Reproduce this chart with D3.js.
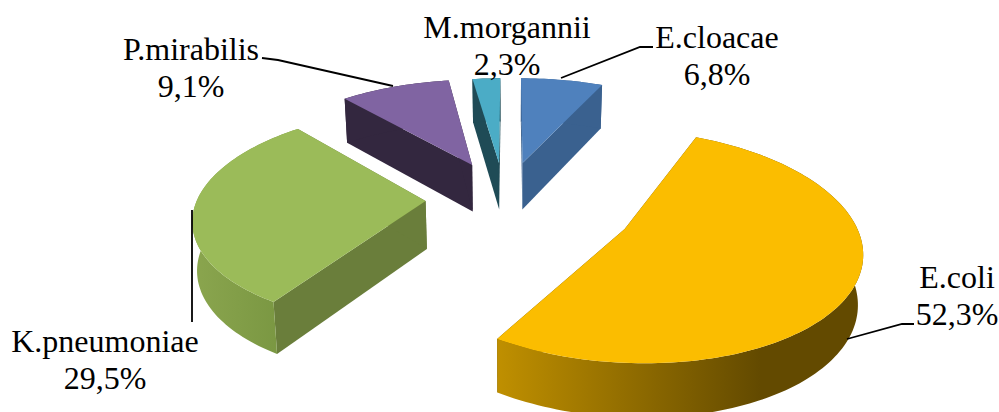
<!DOCTYPE html>
<html>
<head>
<meta charset="utf-8">
<script src="https://cdnjs.cloudflare.com/ajax/libs/d3/7.8.5/d3.min.js"></script>
<style>html,body{margin:0;padding:0;background:#fff}svg{display:block}text{font-family:"Liberation Serif","Times New Roman",serif;font-size:32px;fill:#000;text-anchor:middle}</style>
</head>
<body>
<svg id="chart" width="999" height="412"></svg>
<script>
// Data
const categories = ["E.cloacae", "E.coli", "K.pneumoniae", "P.mirabilis", "M.morgannii"];
const values = [6.8, 52.3, 29.5, 9.1, 2.3];
const topColors = ["#4F81BD", "#FBBD00", "#9BBB59", "#8064A2", "#4BACC6"];
const cutColors = ["#3A618F", "#634A00", "#6A7E3B", "#33273F", "#1F4B56"];

// Layout: perspective ground plane and exploded-slice offsets (plane units)
const cx = 510, horizon = -545, widen = 0.31, c0 = 0.00134, slope = 0.000192, shrink = 0.985;
const offsets = [[0.057,-0.377],[0.478,0.25],[-0.365,-0.003],[-0.172,-0.357],[-0.05,-0.377]];
const radiiU = [1, 0.97, 0.99, 1, 1];
const radiiV = [1, 0.995, 0.99, 1, 1];
const labelPos = [[717,48],[957,288],[105,352],[191,60],[507,38]];
const leaders = [
  [[561,78],[640,47],[653,47]],
  [[847,339],[902,324],[914,324]],
  [[192,210],[192,322]],
  [[262,58],[278,60],[393,86]],
];

const svg = d3.select("#chart");
const defs = svg.append("defs");
const fmt = d3.formatLocale({decimal:",",thousands:" ",grouping:[3],currency:["",""]}).format(".1f");

const project = (u, v) => {
  const s = 1 / (c0 - slope * v);
  return [cx + u * widen * s, horizon + s];
};
const depthAt = d3.scaleLinear().domain([84, 338]).range([43.4, 53.5]);
const drop = ([x, y]) => [cx + (x - cx) * shrink, y + depthAt(y)];

const pie = d3.pie().sort(null).value(d => d)(values);
const path = d3.line();

function gradient(id, x1, x2, stops) {
  const g = defs.append("linearGradient").attr("id", id).attr("gradientUnits","userSpaceOnUse")
    .attr("x1",x1).attr("x2",x2).attr("y1",0).attr("y2",0);
  stops.forEach(([o,c]) => g.append("stop").attr("offset",o).attr("stop-color",c));
  return `url(#${id})`;
}
const wallFill = [
  cutColors[0],
  gradient("w1", 495, 760, [[0,"#C09000"],[1,"#634A00"]]),
  gradient("w2", 195, 280, [[0,"#8AA54E"],[1,"#7A9742"]]),
  cutColors[3],
  cutColors[4],
];

pie.forEach((d, i) => {
  const [ou, ov] = offsets[i];
  const pt = a => project(ou + radiiU[i] * Math.sin(a), ov - radiiV[i] * Math.cos(a));
  const apex = project(ou, ov);
  const n = Math.max(8, Math.ceil((d.endAngle - d.startAngle) * 40));
  const rim = d3.range(n + 1).map(k => pt(d.startAngle + (d.endAngle - d.startAngle) * k / n));
  const g = svg.append("g").attr("class", "slice").attr("data-name", categories[i]);
  [rim[0], rim[n]].forEach(e => {
    g.append("path").attr("d", path([apex, e, drop(e), drop(apex)]) + "Z").attr("fill", cutColors[i]);
  });
  g.append("path").attr("d", path(rim.concat(rim.map(drop).reverse())) + "Z").attr("fill", wallFill[i]);
  g.append("path").attr("d", path([apex, ...rim]) + "Z").attr("fill", topColors[i]);
});

svg.append("g").selectAll("path").data(leaders).join("path")
  .attr("d", d => path(d)).attr("fill","none").attr("stroke","#000").attr("stroke-width",1.8);

const labels = svg.append("g").selectAll("text").data(categories).join("text")
  .attr("x",(d,i)=>labelPos[i][0]).attr("y",(d,i)=>labelPos[i][1]);
labels.append("tspan").text(d=>d);
labels.append("tspan").attr("x",(d,i)=>labelPos[i][0]).attr("dy",36.5).text((d,i)=>fmt(values[i])+"%");
</script>
</body>
</html>
